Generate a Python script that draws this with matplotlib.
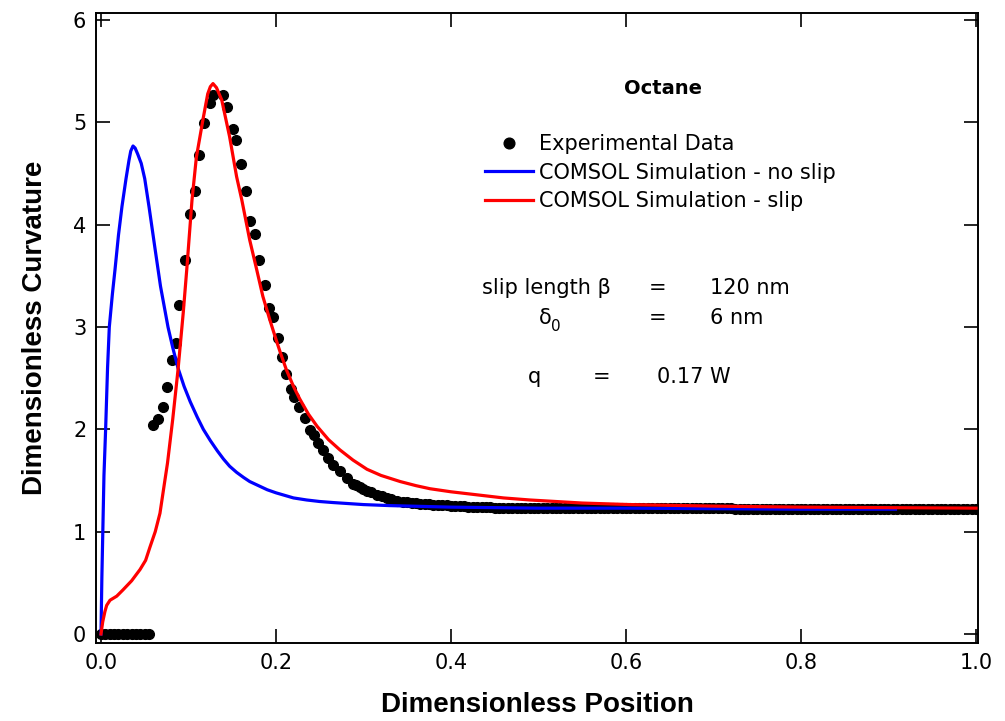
import matplotlib
matplotlib.use("Agg")
import matplotlib.pyplot as plt

# Experimental curvature profile (black dots)
exp_x = [0.000, 0.005, 0.010, 0.015, 0.020, 0.025, 0.030, 0.035, 0.040, 0.045,
         0.050, 0.055,
         0.059, 0.0655, 0.0705, 0.076, 0.0808, 0.0857, 0.0895, 0.096, 0.102,
         0.1074, 0.1123, 0.1177, 0.1246, 0.1283, 0.139, 0.1437, 0.1505, 0.1543,
         0.160, 0.166, 0.170, 0.176, 0.181, 0.187, 0.192, 0.197, 0.2026, 0.207,
         0.211, 0.217, 0.2206, 0.2266, 0.233, 0.239, 0.2434, 0.248, 0.254, 0.260,
         0.265, 0.273, 0.281, 0.288, 0.292, 0.296, 0.300, 0.304, 0.309, 0.315,
         0.321, 0.327, 0.332, 0.338,
         0.345, 0.350, 0.355, 0.360, 0.365, 0.370, 0.375, 0.380, 0.385, 0.390,
         0.395, 0.400, 0.405, 0.410, 0.415, 0.420, 0.425, 0.430, 0.435, 0.440,
         0.445, 0.450, 0.455, 0.460, 0.465, 0.470, 0.475, 0.480, 0.485, 0.490,
         0.495, 0.500, 0.505, 0.510, 0.515, 0.520, 0.525, 0.530, 0.535, 0.540,
         0.545, 0.550, 0.555, 0.560, 0.565, 0.570, 0.575, 0.580, 0.585, 0.590,
         0.595, 0.600, 0.605, 0.610, 0.615, 0.620, 0.625, 0.630, 0.635, 0.640,
         0.645, 0.650, 0.655, 0.660, 0.665, 0.670, 0.675, 0.680, 0.685, 0.690,
         0.695, 0.700, 0.705, 0.710, 0.715, 0.720, 0.725, 0.730, 0.735, 0.740,
         0.745, 0.750, 0.755, 0.760, 0.765, 0.770, 0.775, 0.780, 0.785, 0.790,
         0.795, 0.800, 0.805, 0.810, 0.815, 0.820, 0.825, 0.830, 0.835, 0.840,
         0.845, 0.850, 0.855, 0.860, 0.865, 0.870, 0.875, 0.880, 0.885, 0.890,
         0.895, 0.900, 0.905, 0.910, 0.915, 0.920, 0.925, 0.930, 0.935, 0.940,
         0.945, 0.950, 0.955, 0.960, 0.965, 0.970, 0.975, 0.980, 0.985, 0.990,
         0.995, 1.000]
exp_y = [0.0, 0.0, 0.0, 0.0, 0.0, 0.0, 0.0, 0.0, 0.0, 0.0,
         0.0, 0.0,
         2.04, 2.10, 2.22, 2.41, 2.68, 2.84, 3.22, 3.66, 4.11,
         4.33, 4.68, 4.99, 5.19, 5.27, 5.27, 5.15, 4.94, 4.83,
         4.59, 4.33, 4.04, 3.91, 3.66, 3.41, 3.19, 3.10, 2.89, 2.71,
         2.54, 2.39, 2.32, 2.22, 2.11, 1.99, 1.95, 1.87, 1.80, 1.72,
         1.65, 1.59, 1.52, 1.47, 1.455, 1.44, 1.42, 1.40, 1.385, 1.36,
         1.345, 1.33, 1.315, 1.30,
         1.295, 1.290, 1.285, 1.280, 1.275, 1.270, 1.268, 1.265, 1.262, 1.260,
         1.258, 1.255, 1.252, 1.250, 1.248, 1.245, 1.243, 1.240, 1.240, 1.238,
         1.238, 1.235, 1.235, 1.235, 1.233, 1.233, 1.232, 1.232, 1.230, 1.230,
         1.230, 1.230, 1.230, 1.230, 1.230, 1.230, 1.230, 1.230, 1.230, 1.230,
         1.230, 1.230, 1.230, 1.230, 1.228, 1.228, 1.228, 1.228, 1.228, 1.228,
         1.228, 1.228, 1.228, 1.228, 1.228, 1.228, 1.228, 1.228, 1.228, 1.228,
         1.230, 1.230, 1.230, 1.230, 1.230, 1.230, 1.230, 1.230, 1.230, 1.230,
         1.230, 1.230, 1.230, 1.230, 1.230, 1.230, 1.225, 1.225, 1.225, 1.225,
         1.225, 1.225, 1.225, 1.225, 1.225, 1.225, 1.225, 1.225, 1.225, 1.225,
         1.225, 1.225, 1.225, 1.225, 1.225, 1.225, 1.225, 1.225, 1.225, 1.225,
         1.225, 1.225, 1.225, 1.225, 1.225, 1.225, 1.225, 1.225, 1.225, 1.225,
         1.225, 1.225, 1.225, 1.225, 1.225, 1.225, 1.225, 1.225, 1.225, 1.225,
         1.225, 1.225, 1.225, 1.225, 1.225, 1.225, 1.225, 1.225, 1.225, 1.225,
         1.225, 1.225]

# COMSOL simulation without slip (blue)
noslip_x = [0.0, 0.001, 0.0034, 0.0053, 0.0075, 0.0095, 0.013, 0.016, 0.020,
            0.024, 0.0286, 0.032, 0.034, 0.0366, 0.039, 0.042, 0.046, 0.050,
            0.055, 0.0617, 0.068, 0.0766, 0.082, 0.088, 0.095, 0.102, 0.110,
            0.117, 0.125, 0.133, 0.140, 0.147, 0.155, 0.163, 0.170, 0.180,
            0.190, 0.200, 0.208, 0.220, 0.235, 0.250, 0.265, 0.300, 0.330,
            0.400, 0.500, 0.600, 0.700, 0.800, 0.908]
noslip_y = [0.0, 0.55, 1.55, 2.0, 2.6, 3.0, 3.32, 3.56, 3.90,
            4.18, 4.45, 4.63, 4.72, 4.77, 4.75, 4.69, 4.60, 4.45,
            4.17, 3.77, 3.40, 3.0, 2.80, 2.60, 2.42, 2.27, 2.12,
            2.0, 1.89, 1.79, 1.71, 1.64, 1.58, 1.53, 1.49, 1.45,
            1.41, 1.38, 1.36, 1.33, 1.31, 1.295, 1.285, 1.265, 1.255,
            1.24, 1.23, 1.23, 1.225, 1.22, 1.22]

# COMSOL simulation with slip (red)
slip_x = [0.0, 0.002, 0.0045, 0.0065, 0.0103, 0.018, 0.025, 0.035, 0.0446,
          0.051, 0.056, 0.062, 0.0674, 0.073, 0.076, 0.082, 0.088, 0.094,
          0.098, 0.104, 0.109, 0.117, 0.122, 0.125, 0.128, 0.132, 0.138,
          0.147, 0.155, 0.161, 0.170, 0.178, 0.185, 0.193, 0.200, 0.205,
          0.212, 0.220, 0.227, 0.237, 0.247, 0.260, 0.273, 0.288, 0.304,
          0.320, 0.342, 0.360, 0.376, 0.400, 0.430, 0.460, 0.490, 0.550,
          0.605, 0.700, 0.800, 0.900, 1.000]
slip_y = [0.0, 0.12, 0.22, 0.28, 0.33, 0.37, 0.43, 0.52, 0.63,
          0.72, 0.85, 1.0, 1.18, 1.50, 1.67, 2.10, 2.58, 3.14,
          3.56, 4.24, 4.66, 5.05, 5.28, 5.35, 5.38, 5.34, 5.22,
          4.86, 4.47, 4.24, 3.85, 3.56, 3.30, 3.07, 2.88, 2.75,
          2.58, 2.42, 2.30, 2.15, 2.03, 1.90, 1.80, 1.70, 1.61,
          1.55, 1.49, 1.45, 1.42, 1.39, 1.36, 1.33, 1.31, 1.28,
          1.265, 1.25, 1.24, 1.235, 1.23]

x_ticks = [0.0, 0.2, 0.4, 0.6, 0.8, 1.0]
x_tick_labels = ["0.0", "0.2", "0.4", "0.6", "0.8", "1.0"]
y_ticks = [0, 1, 2, 3, 4, 5, 6]
y_tick_labels = ["0", "1", "2", "3", "4", "5", "6"]

W, H = 1005, 721
fig = plt.figure(figsize=(W / 100, H / 100), dpi=100)
ax = fig.add_axes([96 / W, (H - 643) / H, 882 / W, 630 / H])

ax.plot(exp_x, exp_y, linestyle="none", marker="o", markersize=7,
        color="black", label="Experimental Data", zorder=2)
ax.plot(noslip_x, noslip_y, color="#0000ff", linewidth=2.3,
        label="COMSOL Simulation - no slip", zorder=3)
ax.plot(slip_x, slip_y, color="#ff0000", linewidth=2.3,
        label="COMSOL Simulation - slip", zorder=4)

ax.set_xlim(-0.0057, 1.0023)
ax.set_ylim(-0.088, 6.07)
ax.set_xticks(x_ticks)
ax.set_xticklabels(x_tick_labels)
ax.set_yticks(y_ticks)
ax.set_yticklabels(y_tick_labels)

ax.tick_params(direction="in", length=10, width=1.2, labelsize=15,
               top=True, right=True, pad=7)
for s in ax.spines.values():
    s.set_linewidth(1.4)

label_font = dict(family="Liberation Sans", weight="bold", size=20)
ax.set_xlabel("Dimensionless Position", labelpad=14, **label_font)
ax.set_ylabel("Dimensionless Curvature", labelpad=18, **label_font)

leg = ax.legend(loc="upper left", bbox_to_anchor=(485 / W, 1 - 134 / H),
                bbox_transform=fig.transFigure, frameon=False, fontsize=15,
                borderpad=0, borderaxespad=0, handlelength=2.3,
                handletextpad=0.3, labelspacing=0.41, markerscale=1.1)


def px_text(x, y, s, size=15, **kw):
    fig.text(x / W, 1 - y / H, s, fontsize=size, **kw)


px_text(663, 94, "Octane", ha="center", va="baseline", weight="bold",
        size=14)
px_text(482, 294, "slip length β", ha="left", va="baseline")
px_text(658, 294, "=", ha="center", va="baseline")
px_text(710, 294, "120 nm", ha="left", va="baseline")
px_text(539, 324, "δ", ha="left", va="baseline")
px_text(551, 331, "0", ha="left", va="baseline", size=11)
px_text(658, 324, "=", ha="center", va="baseline")
px_text(710, 324, "6 nm", ha="left", va="baseline")
px_text(528, 383, "q", ha="left", va="baseline")
px_text(602, 383, "=", ha="center", va="baseline")
px_text(657, 383, "0.17 W", ha="left", va="baseline")

fig.savefig("out.png", dpi=100)
